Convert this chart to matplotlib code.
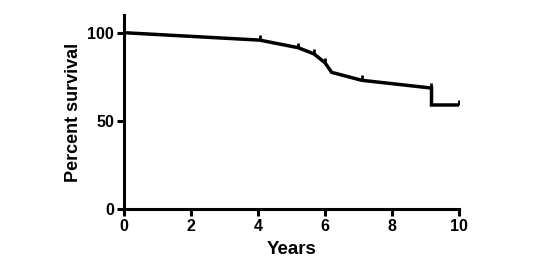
import matplotlib.pyplot as plt
from matplotlib.path import Path

plt.rcParams['font.family'] = ['Liberation Sans', 'DejaVu Sans']
plt.rcParams['font.weight'] = 'bold'

# survival curve points (years, percent)
years = [0, 4.05, 5.2, 5.67, 6.0, 6.2, 7.1, 9.18, 9.18, 10]
survival = [100, 95.8, 91.5, 88, 83, 77.5, 73, 68.6, 59, 59]

# censored observations
cens_years = [4.05, 5.2, 5.67, 6.0, 7.1, 9.15, 10]
cens_surv = [95.8, 91.5, 88, 83, 73, 68.8, 59]


def main():
    fig = plt.figure(figsize=(5.53, 2.69), dpi=100)
    ax = fig.add_axes([0.224, 0.223, 0.606, 0.721])

    ax.plot(years, survival, color='black', lw=2.5, solid_joinstyle='miter')
    # censor tick: short stroke above the curve
    tick_up = Path([(0, 0), (0, 1)])
    ax.plot(cens_years, cens_surv, ls='none', marker=tick_up, ms=6.5, mew=2,
            color='black')

    ax.set_xlim(0, 10)
    ax.set_ylim(0, 110)
    ax.set_xticks([0, 2, 4, 6, 8, 10])
    ax.set_yticks([0, 50, 100])
    for s in ['top', 'right']:
        ax.spines[s].set_visible(False)
    for s in ['left', 'bottom']:
        ax.spines[s].set_linewidth(2.2)
    ax.tick_params(width=2.2, length=5, labelsize=11.5, pad=2)
    ax.set_xlabel('Years', fontsize=13.5, fontweight='bold', labelpad=5)
    ax.set_ylabel('Percent survival', fontsize=13, fontweight='bold',
                  labelpad=4)

    fig.savefig('out.png', dpi=100)


if __name__ == '__main__':
    main()
